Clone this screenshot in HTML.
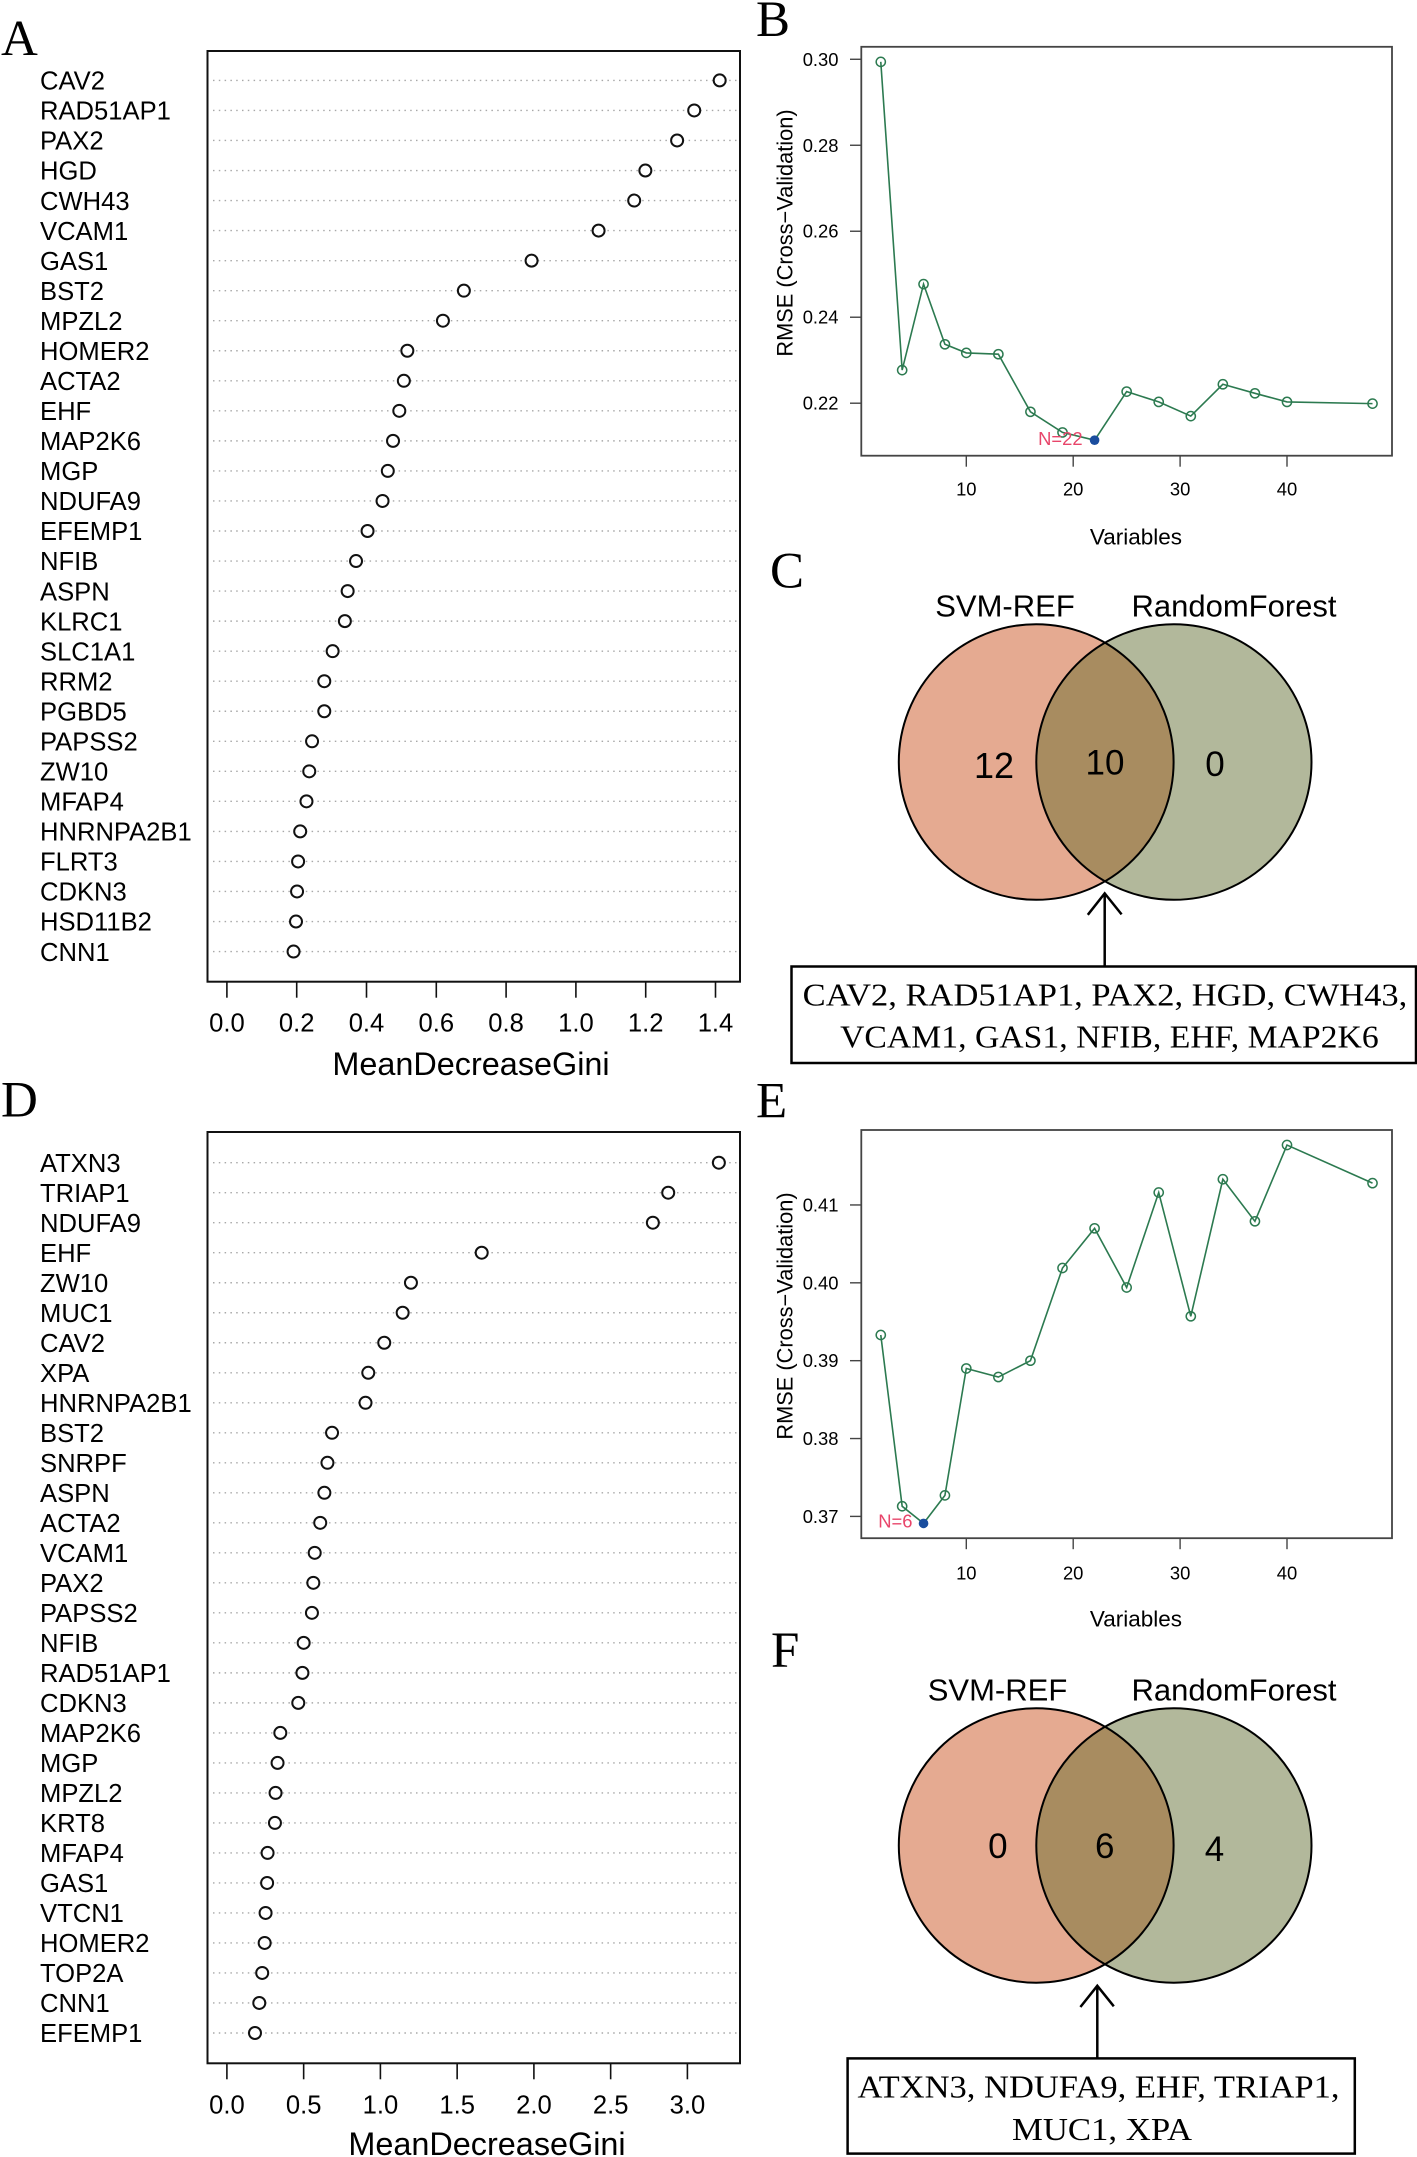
<!DOCTYPE html>
<html lang="en">
<head>
<meta charset="utf-8">
<title>Feature selection panels</title>
<style>
  html, body { margin: 0; padding: 0; background: #fff; }
  svg { display: block; font-family: "Liberation Sans", Arial, sans-serif; fill: #000; }
  .serif { font-family: "Liberation Serif", "Times New Roman", serif; }
</style>
</head>
<body>
<svg id="figure" xmlns="http://www.w3.org/2000/svg" width="1417" height="2157" viewBox="0 0 1417 2157">
  <rect x="0" y="0" width="1417" height="2157" fill="#fff"/>
  <defs>
    <clipPath id="clip-c-right"><ellipse cx="1173.9" cy="762" rx="137.6" ry="137.8"/></clipPath>
    <clipPath id="clip-f-right"><ellipse cx="1173.9" cy="1845.5" rx="137.6" ry="137.2"/></clipPath>
  </defs>

  <text class="serif" x="1" y="55" font-size="51">A</text>
  <text class="serif" x="756" y="36" font-size="51">B</text>
  <text class="serif" x="770" y="587.5" font-size="51">C</text>
  <text class="serif" x="1" y="1116.5" font-size="51">D</text>
  <text class="serif" x="756" y="1117.5" font-size="51">E</text>
  <text class="serif" x="771" y="1667" font-size="51">F</text>

  <g id="panel-a"></g>
  <g id="panel-b"></g>
  <g id="panel-d"></g>
  <g id="panel-e"></g>

  <g>
    <text x="1005" y="616.5" font-size="31" text-anchor="middle">SVM-REF</text>
    <text x="1234" y="616.5" font-size="31" text-anchor="middle">RandomForest</text>
    <ellipse cx="1036.2" cy="762" rx="137.4" ry="137.8" fill="#e5aa91"/>
    <ellipse cx="1173.9" cy="762" rx="137.6" ry="137.8" fill="#b2b89b"/>
    <ellipse cx="1036.2" cy="762" rx="137.4" ry="137.8" fill="#a88c60" clip-path="url(#clip-c-right)"/>
    <ellipse cx="1036.2" cy="762" rx="137.4" ry="137.8" fill="none" stroke="#000" stroke-width="2"/>
    <ellipse cx="1173.9" cy="762" rx="137.6" ry="137.8" fill="none" stroke="#000" stroke-width="2"/>
    <text x="994" y="778" font-size="36" text-anchor="middle">12</text>
    <text x="1105" y="774.5" font-size="35" text-anchor="middle">10</text>
    <text x="1215" y="776" font-size="35" text-anchor="middle">0</text>
    <path d="M1104.7 967.6V893.4M1087.8 914.8L1104.7 893.4L1121.6 914.4" fill="none" stroke="#000" stroke-width="2.5"/>
    <rect x="791.5" y="966.5" width="624.5" height="96.5" fill="#fff" stroke="#000" stroke-width="2.5"/>
    <text class="serif" x="1105" y="1005.5" font-size="32" text-anchor="middle" textLength="604.6" lengthAdjust="spacingAndGlyphs">CAV2, RAD51AP1, PAX2, HGD, CWH43,</text>
    <text class="serif" x="1109.4" y="1047.6" font-size="32" text-anchor="middle" textLength="538.6" lengthAdjust="spacingAndGlyphs">VCAM1, GAS1, NFIB, EHF, MAP2K6</text>
  </g>

  <g>
    <text x="997.5" y="1700.5" font-size="31" text-anchor="middle">SVM-REF</text>
    <text x="1234" y="1700.5" font-size="31" text-anchor="middle">RandomForest</text>
    <ellipse cx="1036.2" cy="1845.5" rx="137.4" ry="137.2" fill="#e5aa91"/>
    <ellipse cx="1173.9" cy="1845.5" rx="137.6" ry="137.2" fill="#b2b89b"/>
    <ellipse cx="1036.2" cy="1845.5" rx="137.4" ry="137.2" fill="#a88c60" clip-path="url(#clip-f-right)"/>
    <ellipse cx="1036.2" cy="1845.5" rx="137.4" ry="137.2" fill="none" stroke="#000" stroke-width="2"/>
    <ellipse cx="1173.9" cy="1845.5" rx="137.6" ry="137.2" fill="none" stroke="#000" stroke-width="2"/>
    <text x="997.8" y="1858" font-size="35" text-anchor="middle">0</text>
    <text x="1104.7" y="1858" font-size="35" text-anchor="middle">6</text>
    <text x="1214.5" y="1861" font-size="35" text-anchor="middle">4</text>
    <path d="M1097.3 2059.4V1985.8M1080.4 2007L1097.3 1985.8L1113.8 2006.3" fill="none" stroke="#000" stroke-width="2.5"/>
    <rect x="847.6" y="2058.4" width="507.2" height="95.2" fill="#fff" stroke="#000" stroke-width="2.5"/>
    <text class="serif" x="1098.5" y="2097.7" font-size="32" text-anchor="middle" textLength="482" lengthAdjust="spacingAndGlyphs">ATXN3, NDUFA9, EHF, TRIAP1,</text>
    <text class="serif" x="1102" y="2140" font-size="32" text-anchor="middle" textLength="180" lengthAdjust="spacingAndGlyphs">MUC1, XPA</text>
  </g>
</svg>

<script>
// Panel A data
const genesA = ["CAV2","RAD51AP1","PAX2","HGD","CWH43","VCAM1","GAS1","BST2","MPZL2","HOMER2","ACTA2","EHF","MAP2K6","MGP","NDUFA9","EFEMP1","NFIB","ASPN","KLRC1","SLC1A1","RRM2","PGBD5","PAPSS2","ZW10","MFAP4","HNRNPA2B1","FLRT3","CDKN3","HSD11B2","CNN1"];
const giniA = [1.412,1.339,1.290,1.199,1.167,1.065,0.873,0.679,0.619,0.517,0.507,0.494,0.476,0.461,0.446,0.403,0.370,0.346,0.338,0.303,0.279,0.279,0.244,0.236,0.228,0.210,0.204,0.201,0.198,0.191];
const ticksA = [0,0.2,0.4,0.6,0.8,1.0,1.2,1.4];
const tickLabelsA = ["0.0","0.2","0.4","0.6","0.8","1.0","1.2","1.4"];

// Panel D data
const genesD = ["ATXN3","TRIAP1","NDUFA9","EHF","ZW10","MUC1","CAV2","XPA","HNRNPA2B1","BST2","SNRPF","ASPN","ACTA2","VCAM1","PAX2","PAPSS2","NFIB","RAD51AP1","CDKN3","MAP2K6","MGP","MPZL2","KRT8","MFAP4","GAS1","VTCN1","HOMER2","TOP2A","CNN1","EFEMP1"];
const giniD = [3.205,2.875,2.775,1.66,1.199,1.145,1.025,0.921,0.903,0.685,0.655,0.635,0.608,0.572,0.563,0.554,0.50,0.492,0.465,0.348,0.33,0.317,0.313,0.265,0.262,0.252,0.246,0.23,0.211,0.183];
const ticksD = [0,0.5,1.0,1.5,2.0,2.5,3.0];
const tickLabelsD = ["0.0","0.5","1.0","1.5","2.0","2.5","3.0"];

// Panels B and E data
const variables = [2,4,6,8,10,13,16,19,22,25,28,31,34,37,40,48];
const rmseB = [0.2994,0.2277,0.2477,0.2337,0.2317,0.2314,0.2180,0.2132,0.2114,0.2227,0.2203,0.2170,0.2244,0.2223,0.2203,0.2199];
const rmseE = [0.3933,0.3713,0.3691,0.3727,0.3890,0.3879,0.3900,0.4019,0.4070,0.3994,0.4116,0.3957,0.4133,0.4079,0.4177,0.4128];
const xTicksLine = [10,20,30,40];
const xTickLabelsLine = ["10","20","30","40"];
const yTicksB = [0.22,0.24,0.26,0.28,0.30];
const yTickLabelsB = ["0.22","0.24","0.26","0.28","0.30"];
const yTicksE = [0.37,0.38,0.39,0.40,0.41];
const yTickLabelsE = ["0.37","0.38","0.39","0.40","0.41"];

const NS = "http://www.w3.org/2000/svg";
function mk(tag, attrs, parent) {
  const n = document.createElementNS(NS, tag);
  for (const k in attrs) n.setAttribute(k, attrs[k]);
  parent.appendChild(n);
  return n;
}

function drawDotChart(root, genes, values, ticks, tickLabels, opt) {
  const xScale = v => opt.x0 + v * opt.xUnit;
  const yScale = i => opt.yFirst + i * opt.yStep;

  const frame = mk("rect", {x: 207.5, y: opt.top, width: 532.5, height: opt.bottom - opt.top, fill: "none", stroke: "#111", "stroke-width": 2}, root);
  
  

  genes.forEach((g, i) => {
    const y = yScale(i);
    const guide = mk("line", {x1: 213, x2: 739, y1: y, y2: y, stroke: "#a8a8a8", "stroke-width": 1.4, "stroke-dasharray": "1.5 4.3"}, root);
    
    

    const label = mk("text", {x: 40, y: y + 9.2, "font-size": 25.6}, root);
    label.textContent = g;
    
    

    const dot = mk("circle", {cx: xScale(values[i]), cy: y, r: 6, fill: "#fff", stroke: "#111", "stroke-width": 2}, root);
    
    
  });

  ticks.forEach((t, i) => {
    const x = xScale(t);
    const tick = mk("line", {x1: x, x2: x, y1: opt.bottom, y2: opt.bottom + 16, stroke: "#111", "stroke-width": 1.6}, root);
    
    

    const label = mk("text", {x: x, y: opt.tickBase, "font-size": 25.6, "text-anchor": "middle"}, root);
    label.textContent = tickLabels[i];
    
    
  });

  const title = mk("text", {x: opt.titleX, y: opt.titleBase, "font-size": 32.4, "text-anchor": "middle"}, root);
  title.textContent = "MeanDecreaseGini";
  
  
}

function drawLineChart(root, xs, ys, xTicks, xLabels, yTicks, yLabels, opt) {
  const xScale = v => 966.3 + (v - 10) * 10.69;
  const yScale = v => opt.yRef + (opt.refValue - v) * opt.yUnit;
  const axisColor = "#444";

  const frame = mk("rect", {x: 861.3, y: opt.top, width: 530.7, height: opt.bottom - opt.top, fill: "none", stroke: axisColor, "stroke-width": 1.8}, root);
  
  

  xTicks.forEach((t, i) => {
    const x = xScale(t);
    const tick = mk("line", {x1: x, x2: x, y1: opt.bottom, y2: opt.bottom + 11, stroke: axisColor, "stroke-width": 1.4}, root);
    
    

    const label = mk("text", {x: x, y: opt.xTickBase, "font-size": 18.4, "text-anchor": "middle"}, root);
    label.textContent = xLabels[i];
    
    
  });

  yTicks.forEach((t, i) => {
    const y = yScale(t);
    const tick = mk("line", {x1: 850, x2: 861.3, y1: y, y2: y, stroke: axisColor, "stroke-width": 1.4}, root);
    
    

    const label = mk("text", {x: 838.5, y: y + 6.5, "font-size": 18.4, "text-anchor": "end"}, root);
    label.textContent = yLabels[i];
    
    
  });

  const path = mk("polyline", {points: xs.map((v, i) => xScale(v) + "," + yScale(ys[i])).join(" "), fill: "none", stroke: "#2c7a50", "stroke-width": 1.6}, root);
  
  

  let best = 0;
  ys.forEach((v, i) => { if (v < ys[best]) best = i; });

  xs.forEach((v, i) => {
    if (i === best) return;
    const pt = mk("circle", {cx: xScale(v), cy: yScale(ys[i]), r: 4.6, fill: "none", stroke: "#2c7a50", "stroke-width": 1.5}, root);
    
    
  });

  const bestDot = mk("circle", {cx: xScale(xs[best]), cy: yScale(ys[best]), r: 4.8, fill: "#1a4d9e"}, root);
  
  

  const note = mk("text", {x: xScale(xs[best]) - opt.noteGap, y: yScale(ys[best]) + opt.noteDy, "font-size": 18.4, "text-anchor": "end", fill: "#e8456a"}, root);
  note.textContent = "N=" + xs[best];
  
  

  const xTitle = mk("text", {x: 1136, y: opt.xTitleBase, "font-size": 22.5, "text-anchor": "middle"}, root);
  xTitle.textContent = "Variables";
  
  

  const yTitle = mk("text", {x: 0, y: 0, "font-size": 21.8, "text-anchor": "middle", transform: "translate(792.5 " + opt.yTitleY + ") rotate(-90)"}, root);
  yTitle.textContent = "RMSE (Cross\u2212Validation)";
  
  
}

drawDotChart(document.getElementById("panel-a"), genesA, giniA, ticksA, tickLabelsA,
  {x0: 226.9, xUnit: 349, yFirst: 80.4, yStep: 30.04, top: 51, bottom: 981.7, tickBase: 1031.5, titleX: 471, titleBase: 1075});
drawDotChart(document.getElementById("panel-d"), genesD, giniD, ticksD, tickLabelsD,
  {x0: 226.9, xUnit: 153.5, yFirst: 1162.7, yStep: 30.01, top: 1132, bottom: 2063.3, tickBase: 2113.3, titleX: 487, titleBase: 2155});
drawLineChart(document.getElementById("panel-b"), variables, rmseB, xTicksLine, xTickLabelsLine, yTicksB, yTickLabelsB,
  {yRef: 403.2, refValue: 0.22, yUnit: 4299, top: 46.8, bottom: 455.7, xTickBase: 495.4, xTitleBase: 544.5, yTitleY: 233, noteGap: 12, noteDy: 5});
drawLineChart(document.getElementById("panel-e"), variables, rmseE, xTicksLine, xTickLabelsLine, yTicksE, yTickLabelsE,
  {yRef: 1516.4, refValue: 0.37, yUnit: 7786, top: 1130, bottom: 1538.2, xTickBase: 1579.5, xTitleBase: 1626.5, yTitleY: 1316, noteGap: 11, noteDy: 4});
</script>
</body>
</html>
